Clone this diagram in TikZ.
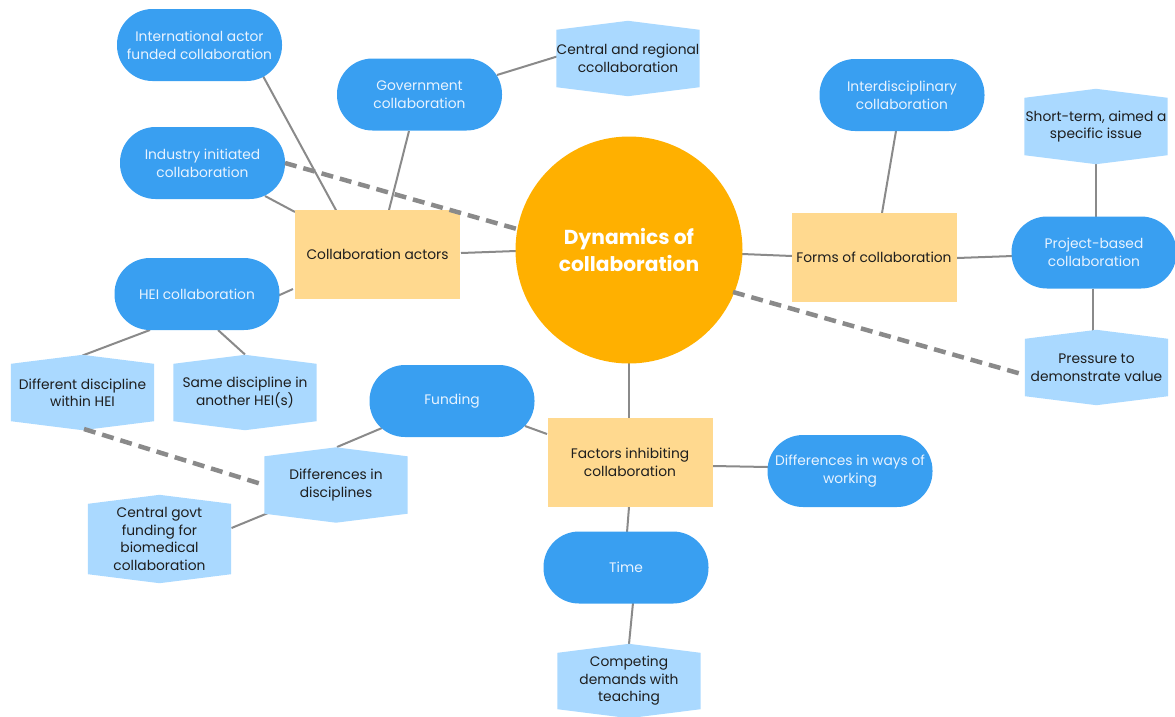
\documentclass[tikz,border=0pt]{standalone}
\usepackage{fontspec}
\setmainfont{Poppins}
\usetikzlibrary{calc,backgrounds}
\definecolor{sblue}{RGB}{57,159,241}
\definecolor{stext}{RGB}{232,243,255}
\definecolor{hexc}{RGB}{170,217,255}
\definecolor{rectc}{RGB}{255,217,143}
\definecolor{circc}{RGB}{255,176,0}
\definecolor{linec}{RGB}{138,138,138}
\definecolor{dtext}{RGB}{30,30,30}
\tikzset{
  stad/.style={rectangle, rounded corners=35.5pt, minimum width=165pt, minimum height=72pt, inner sep=0pt, fill=sblue, text=stext, align=center, font=\fontsize{13.8}{18}\selectfont},
  yrect/.style={rectangle, minimum width=165pt, minimum height=89pt, inner sep=0pt, fill=rectc, text=dtext, align=center, font=\fontsize{13.8}{18}\selectfont},
  hexn/.style={rectangle, minimum width=143pt, minimum height=57pt, inner sep=0pt, text=dtext, align=center, font=\fontsize{13.8}{17.5}\selectfont},
  conn/.style={draw=linec, line width=2pt},
  dconn/.style={draw=linec, line width=4.5pt, dash pattern=on 12pt off 7pt},
  hexfill/.style={fill=hexc}
}
\begin{document}
\begin{tikzpicture}[x=1pt,y=-1pt]
\useasboundingbox (0,0) rectangle (1175,716);
% central circle
\node[circle, fill=circc, minimum size=227pt, inner sep=0pt, text=white, align=center, font=\fontsize{20.2}{27}\selectfont\bfseries] (circ) at (629,250) {Dynamics of\\collaboration};
% yellow rectangles
\node[yrect] (ca) at (377.5,254.5) {Collaboration actors};
\node[yrect] (forms) at (874,257.5) {Forms of collaboration};
\node[yrect] (fact) at (630,462.5) {Factors inhibiting\\collaboration};
% blue stadiums
\node[stad] (intl) at (199.5,45) {International actor\\funded collaboration};
\node[stad] (gov) at (419.5,94.5) {Government\\collaboration};
\node[stad] (ind) at (202.5,163) {Industry initiated\\collaboration};
\node[stad] (hei) at (197,294) {HEI collaboration};
\node[stad] (inter) at (902,95) {Interdisciplinary\\collaboration};
\node[stad] (proj) at (1094,252.5) {Project-based\\collaboration};
\node[stad] (fund) at (452,401) {Funding};
\node[stad] (dw) at (850,471) {Differences in ways of\\working};
\node[stad] (time) at (626,567.5) {Time};
% hexagons
\node[hexn] (cr) at (628,58.5) {Central and regional\\ccollaboration};
\node[hexn] (short) at (1096,126.5) {Short-term, aimed a\\specific issue};
\node[hexn] (press) at (1096.5,367.5) {Pressure to\\demonstrate value};
\node[hexn] (dd) at (82.5,392.5) {Different discipline\\within HEI};
\node[hexn] (sd) at (245,392.5) {Same discipline in\\another HEI(s)};
\node[hexn] (dis) at (336,485) {Differences in\\disciplines};
\node[hexn, minimum height=70pt] (cg) at (159.5,539) {Central govt\\funding for\\biomedical\\collaboration};
\node[hexn, minimum height=56pt] (comp) at (629,681) {Competing\\demands with\\teaching};
\begin{scope}[on background layer]
  \draw[conn] ($(intl)+(63.5,31)$) -- ($(ca)+(-40.5,-42.5)$);
  \draw[conn] ($(gov)+(-10.5,36.5)$) -- ($(ca)+(11.5,-44.5)$);
  \draw[conn] ($(ind)+(62.5,33)$) -- ($(ca)+(-82.5,-42.5)$);
  \draw[conn] ($(hei)+(67,8)$) -- ($(ca)+(-84.5,34.5)$);
  \draw[conn] ($(ca)+(83.5,-1.5)$) -- ($(circ)+(-113,1)$);
  \draw[conn] ($(gov)+(77.5,-19.5)$) -- ($(cr)+(-71,-2)$);
  \draw[conn] ($(hei)+(-47,36)$) -- ($(dd)+(0,-37)$);
  \draw[conn] ($(hei)+(21,36)$) -- ($(sd)+(0,-38)$);
  \draw[conn] ($(circ)+(113,4)$) -- ($(forms)+(-82,-1.5)$);
  \draw[conn] ($(inter)+(-6,36)$) -- ($(forms)+(8,-44.5)$);
  \draw[conn] ($(forms)+(83,0.5)$) -- ($(proj)+(-81,3.5)$);
  \draw[conn] ($(short)+(0,37)$) -- ($(proj)+(2,-35)$);
  \draw[conn] ($(proj)+(-1,36)$) -- ($(press)+(-3.5,-37)$);
  \draw[conn] ($(circ)+(0,112)$) -- ($(fact)+(-1,-44.5)$);
  \draw[conn] ($(fund)+(73,25)$) -- ($(fact)+(-83,-28.5)$);
  \draw[conn] ($(fact)+(83,3.5)$) -- ($(dw)+(-82,-4)$);
  \draw[conn] ($(fact)+(-1,44.5)$) -- ($(time)+(1,-35)$);
  \draw[conn] ($(time)+(8,25)$) -- ($(comp)+(0,-37)$);
  \draw[conn] ($(fund)+(-70,27)$) -- ($(dis)+(1,-38)$);
  \draw[conn] ($(dis)+(-68,28)$) -- ($(cg)+(72,-11)$);
  \foreach \h/\p in {cr/9,short/9,press/9,dd/9,sd/9,dis/9,cg/9,comp/9}{
    \fill[hexfill] (\h.north west) -- ($(\h.north)+(0,-\p)$) -- (\h.north east)
      -- (\h.south east) -- ($(\h.south)+(0,\p)$) -- (\h.south west) -- cycle;
  }
\end{scope}
% dashed connectors
\draw[dconn] ($(ind)+(82.5,0)$) -- ($(circ)+(-112,-21)$);
\draw[dconn] ($(circ)+(104,42)$) -- ($(press)+(-71.5,7.5)$);
\draw[dconn] ($(dd)+(1.5,36.5)$) -- ($(dis)+(-71.5,0)$);
\end{tikzpicture}
\end{document}
